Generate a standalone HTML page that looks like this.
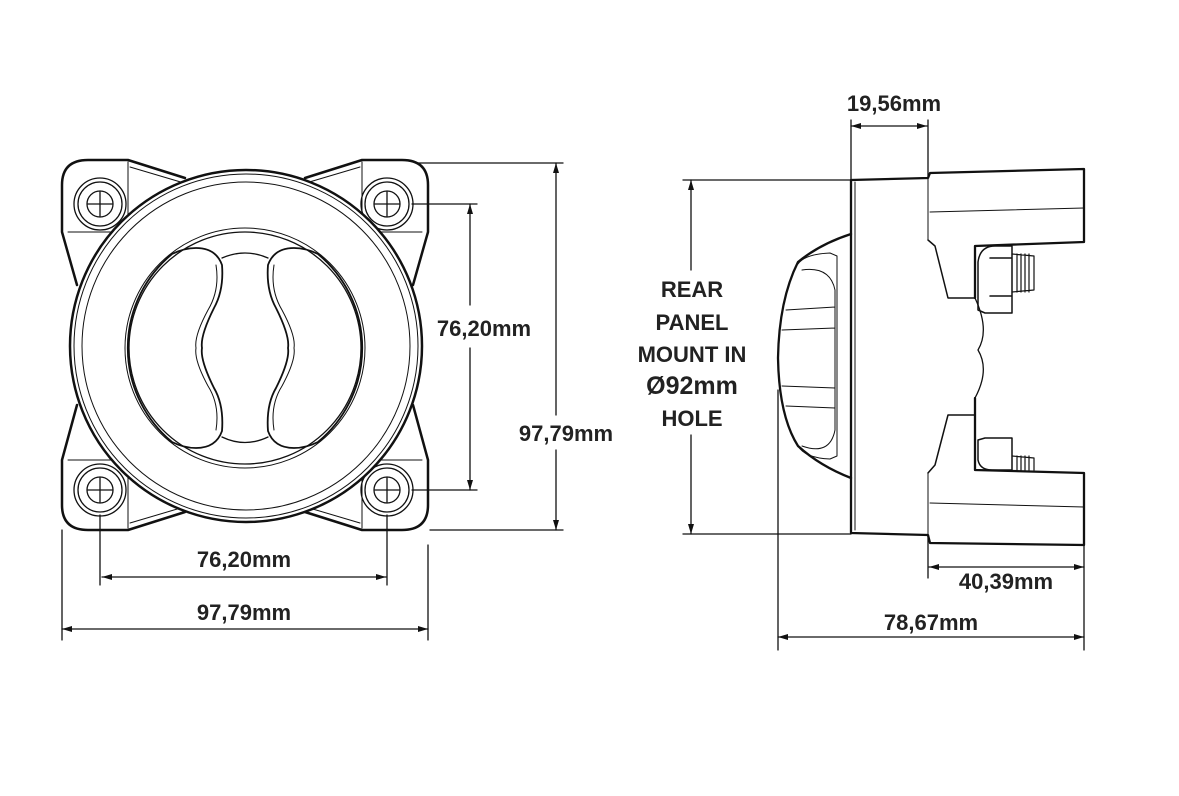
<!DOCTYPE html>
<html><head><meta charset="utf-8"><style>
html,body{margin:0;padding:0;background:#fff;}
svg{display:block;}
text{font-family:"Liberation Sans",Arial,sans-serif;font-weight:bold;fill:#222;}
</style></head><body>
<svg width="1179" height="796" viewBox="0 0 1179 796" xmlns="http://www.w3.org/2000/svg">
<defs>
<marker id="a" viewBox="0 0 10 6" refX="10" refY="3" markerWidth="10" markerHeight="6" orient="auto-start-reverse" markerUnits="userSpaceOnUse"><path d="M0,0 L10,3 L0,6 Z" fill="#111"/></marker>
</defs>
<g fill="none" stroke="#111" stroke-linecap="round" stroke-linejoin="round">
<path d="M62,185 Q62,160 88,160 L128,160 L185,178 M62,185 L62,232 L77,285 M62,505 Q62,530 88,530 L128,530 L185,512 M62,505 L62,460 L77,405
 M428,185 Q428,160 402,160 L362,160 L305,178 M428,185 L428,232 L413,285 M428,505 Q428,530 402,530 L362,530 L305,512 M428,505 L428,460 L413,405" stroke-width="2.5"/>
<path d="M68,232 L128,232 L128,162 M68,460 L128,460 L128,528 M422,232 L362,232 L362,162 M422,460 L362,460 L362,528 M130,167 L184,183 M130,523 L184,507 M360,167 L306,183 M360,523 L306,507" stroke-width="1"/>
<g stroke-width="1.3">
<circle cx="100" cy="204" r="26"/><circle cx="100" cy="204" r="22"/><circle cx="100" cy="204" r="13"/><path d="M88,204 H112 M100,192 V216"/>
<circle cx="387" cy="204" r="26"/><circle cx="387" cy="204" r="22"/><circle cx="387" cy="204" r="13"/><path d="M375,204 H399 M387,192 V216"/>
<circle cx="100" cy="490" r="26"/><circle cx="100" cy="490" r="22"/><circle cx="100" cy="490" r="13"/><path d="M88,490 H112 M100,478 V502"/>
<circle cx="387" cy="490" r="26"/><circle cx="387" cy="490" r="22"/><circle cx="387" cy="490" r="13"/><path d="M375,490 H399 M387,478 V502"/>
</g>
<circle cx="246" cy="346" r="176" fill="#fff" stroke-width="2.5"/>
<circle cx="246" cy="346" r="172" stroke-width="1"/>
<circle cx="246" cy="346" r="164" stroke-width="1"/>
<circle cx="245" cy="348" r="120" stroke-width="1"/>
<circle cx="245" cy="348" r="116" stroke-width="1.3"/>
<g stroke-width="1.8">
<path d="M222,265 Q216,248 196,248 Q184,248 172,254 A122,122 0 0 0 172,442 Q184,448 196,448 Q216,448 222,431 Q224,405 214,388 Q200,360 202,348 Q200,336 214,308 Q224,290 222,265 Z"/>
<path d="M268,265 Q274,248 294,248 Q306,248 318,254 A122,122 0 0 1 318,442 Q306,448 294,448 Q274,448 268,431 Q266,405 276,388 Q290,360 288,348 Q290,336 276,308 Q266,290 268,265 Z"/>
<path d="M222,258 Q245,248 268,258 M222,437 Q245,448 268,437" stroke-width="1.3"/>
<path d="M216,265 Q220,290 208,310 Q194,336 196,348 Q194,360 208,386 Q220,405 216,430 M274,265 Q270,290 282,310 Q296,336 294,348 Q296,360 282,386 Q270,405 274,430" stroke-width="1"/>
</g>
<path d="M851,180 L928,178 L930,173 L1084,169 L1084,242 L975,246 L975,298 M851,180 L851,533 L928,535 L930,543 L1084,545 L1084,473 L975,470 L975,398" stroke-width="2.3"/>
<path d="M855,182 V530 M928,178 V240 M928,473 V535 M930,212 L1084,208 M930,503 L1084,507" stroke-width="1"/>
<path d="M928,240 L935,246 L948,298 L975,298 M928,473 L935,465 L948,415 L975,415" stroke-width="1.5"/>
<path d="M975,298 Q990,330 978,350 Q990,370 975,398 V415" stroke-width="1.3"/>
<path d="M978,310 L978,262 Q980,246 995,246 L1012,246 L1012,313 L985,313 Z M990,258 L1012,258 M990,296 L1012,296" stroke-width="1.5"/>
<path d="M1012,254 L1034,256 L1034,290 L1012,292 M1017,254 V292 M1021,254 V292 M1025,254 V292 M1029,254 V292" stroke-width="1.2"/>
<path d="M978,440 L978,460 Q980,470 992,470 L1012,470 L1012,438 L985,438 Z" stroke-width="1.5"/>
<path d="M1012,456 L1034,458 L1034,470 M1017,456 V470 M1021,456 V470 M1025,456 V470 M1029,456 V470" stroke-width="1.2"/>
<path d="M851,234 Q820,244 798,262 Q779,300 778,358 Q779,416 798,446 Q820,466 851,478" stroke-width="2.3"/>
<path d="M798,264 Q805,254 830,253 L837,256 L837,456 L830,459 Q805,458 798,446" stroke-width="1"/>
<path d="M802,270 Q830,266 835,290 L835,430 Q830,456 802,446 M786,310 L835,307 M782,330 L835,328 M782,386 L835,388 M786,406 L835,408" stroke-width="1"/>
<g stroke-width="1.3">
<path d="M418,163 H563 M430,530 H563 M412,204 H477 M412,490 H477"/>
<path d="M470,204 V305" marker-start="url(#a)"/>
<path d="M470,348 V490" marker-end="url(#a)"/>
<path d="M556,163 V415" marker-start="url(#a)"/>
<path d="M556,450 V530" marker-end="url(#a)"/>
<path d="M100,515 V585 M387,515 V585 M62,530 V640 M428,545 V640"/>
<path d="M102,577 H386" marker-start="url(#a)" marker-end="url(#a)"/>
<path d="M62,629 H428" marker-start="url(#a)" marker-end="url(#a)"/>
<path d="M851,120 V180 M928,120 V178"/>
<path d="M851,126 H927" marker-start="url(#a)" marker-end="url(#a)"/>
<path d="M683,180 H851 M683,534 H851"/>
<path d="M691,180 V270" marker-start="url(#a)"/>
<path d="M691,435 V534" marker-end="url(#a)"/>
<path d="M928,535 V578 M1084,545 V650 M778,390 V650"/>
<path d="M929,567 H1084" marker-start="url(#a)" marker-end="url(#a)"/>
<path d="M778,637 H1084" marker-start="url(#a)" marker-end="url(#a)"/>
</g>
</g>
<g font-size="22" text-anchor="middle">
<text x="484" y="336">76,20mm</text>
<text x="566" y="441">97,79mm</text>
<text x="244" y="567">76,20mm</text>
<text x="244" y="620">97,79mm</text>
<text x="894" y="111">19,56mm</text>
<text x="1006" y="589">40,39mm</text>
<text x="931" y="630">78,67mm</text>
<text x="692" y="297">REAR</text>
<text x="692" y="330">PANEL</text>
<text x="692" y="362">MOUNT IN</text>
<text x="692" y="394" font-size="25">Ø92mm</text>
<text x="692" y="426">HOLE</text>
</g>
</svg>
</body></html>
